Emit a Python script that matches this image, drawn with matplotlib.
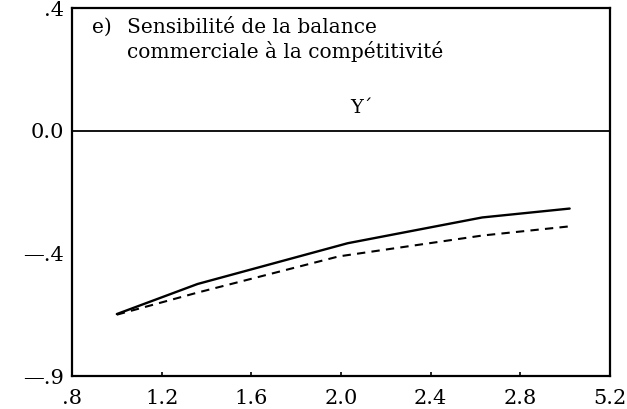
import matplotlib
matplotlib.use("Agg")
import matplotlib.pyplot as plt

# Data
x_solid = [1.0, 1.36, 2.03, 2.63, 3.02]
y_solid = [-0.598, -0.50, -0.367, -0.283, -0.254]
x_dash = [1.0, 1.36, 1.99, 2.63, 3.02]
y_dash = [-0.60, -0.528, -0.41, -0.342, -0.312]

xticks = [0.8, 1.2, 1.6, 2.0, 2.4, 2.8, 3.2]
xticklabels = [".8", "1.2", "1.6", "2.0", "2.4", "2.8", "5.2"]
yticks = [0.4, 0.0, -0.4, -0.8]
yticklabels = [".4", "0.0", "\u2014.4", "\u2014.9"]

panel = "e)"
title_1 = "Sensibilit\u00e9 de la balance"
title_2 = "commerciale \u00e0 la comp\u00e9titivit\u00e9"
symbol = "\u03a5\u00b4"

plt.rcParams['font.family'] = ['DejaVu Serif']

W, H = 627, 409
fig = plt.figure(figsize=(W/100, H/100), dpi=100)
ax = fig.add_axes([72/W, 1 - 376/H, (610-72)/W, (376-8)/H])

ax.plot(x_solid, y_solid, color='black', lw=1.7, solid_capstyle='round')
ax.plot(x_dash, y_dash, color='black', lw=1.5, ls=(0, (4, 3)))
ax.axhline(0.0, color='black', lw=1.3)

ax.set_xlim(0.8, 3.2)
ax.set_ylim(-0.8, 0.4)
ax.set_xticks(xticks)
ax.set_xticklabels(xticklabels, fontsize=15)
ax.set_yticks(yticks)
ax.set_yticklabels(yticklabels, fontsize=15)
ax.tick_params(axis='x', direction='in', length=3, width=1.2, pad=9)
ax.tick_params(axis='y', length=0, pad=6)
for s in ax.spines.values():
    s.set_linewidth(1.6)

def fx(px):
    return px / W

def fy(py):
    return 1 - py / H

fig.text(fx(92), fy(33), panel, ha='left', va='baseline', fontsize=14.5)
fig.text(fx(127), fy(33), title_1, ha='left', va='baseline', fontsize=14.5)
fig.text(fx(127), fy(58), title_2, ha='left', va='baseline', fontsize=14.5)
fig.text(fx(350), fy(113), symbol, ha='left', va='baseline', fontsize=14)

fig.savefig("out.png", dpi=100, facecolor='white')
